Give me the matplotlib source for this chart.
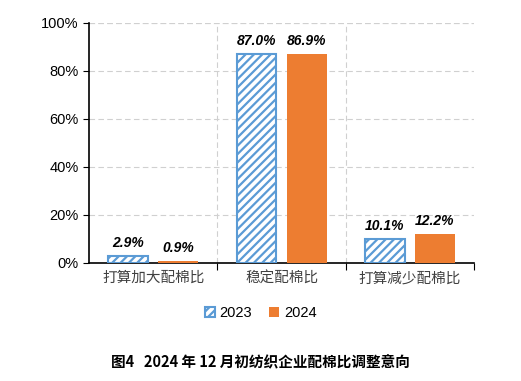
import matplotlib
matplotlib.use('Agg')
import matplotlib.pyplot as plt
import numpy as np

# data
categories = ['打算加大配棉比', '稳定配棉比', '打算减少配棉比']
series_names = ['2023', '2024']
values_2023 = [2.9, 87.0, 10.1]
values_2024 = [0.9, 86.9, 12.2]
y_ticks = [0, 20, 40, 60, 80, 100]
title = '图4   2024 年 12 月初纺织企业配棉比调整意向'

blue = '#5B9BD5'
orange = '#ED7D31'
cjk = ['Noto Sans CJK SC', 'DejaVu Sans']

plt.rcParams['hatch.color'] = blue
plt.rcParams['hatch.linewidth'] = 1.6

fig = plt.figure(figsize=(5.21, 3.81), dpi=100)
ax = fig.add_axes([0.171, 0.310, 0.739, 0.630])

x = np.arange(len(categories))
w = 0.31
off = 0.195
b1 = ax.bar(x - off, values_2023, w, facecolor='white', edgecolor=blue,
            hatch='////', linewidth=1.5, label=series_names[0], zorder=3)
b2 = ax.bar(x + off, values_2024, w, color=orange, label=series_names[1], zorder=3)

for bars, vals in [(b1, values_2023), (b2, values_2024)]:
    for r, v in zip(bars, vals):
        ax.text(r.get_x() + r.get_width() / 2, v + 2.5, f'{v:.1f}%',
                ha='center', va='bottom', fontsize=10, fontweight='bold',
                fontstyle='italic', family='Liberation Sans')

ax.set_xlim(-0.5, 2.5)
ax.set_ylim(0, 100)
ax.set_yticks(y_ticks)
ax.set_yticklabels([f'{t}%' for t in y_ticks], family='Liberation Sans', fontsize=10.5)

# category ticks at group boundaries, labels centred
ax.set_xticks([0.5, 1.5, 2.5])
ax.set_xticklabels([])
ax.set_xticks(x, minor=True)
ax.set_xticklabels(categories, minor=True, family=cjk, fontsize=10.5,
                   color='#404040', fontweight='light')
ax.tick_params(axis='x', which='minor', length=0, pad=6)
ax.tick_params(axis='x', which='major', length=5, direction='out')
ax.tick_params(axis='y', length=4)

ax.grid(axis='y', color='#D0D0D0', linestyle=(0, (5, 3)), linewidth=0.8, zorder=0)
for b in [0.5, 1.5]:
    ax.axvline(b, color='#D0D0D0', linestyle=(0, (5, 3)), linewidth=0.8, zorder=0)
ax.axhline(100, color='#D0D0D0', linestyle=(0, (5, 3)), linewidth=0.8, zorder=0)

ax.spines['top'].set_visible(False)
ax.spines['right'].set_visible(False)
ax.spines['left'].set_linewidth(1.2)
ax.spines['bottom'].set_linewidth(1.2)

leg = fig.legend(handles=[b1, b2], loc='center', bbox_to_anchor=(0.5, 0.178), ncol=2,
                 frameon=False, prop={'family': 'Liberation Sans', 'size': 10.5},
                 handlelength=0.7, handleheight=0.7, columnspacing=1.2, handletextpad=0.3)

fig.text(0.5, 0.05, title, ha='center', va='center', family=cjk,
         fontweight='bold', fontsize=10.5)

fig.savefig('out.png', dpi=100)
